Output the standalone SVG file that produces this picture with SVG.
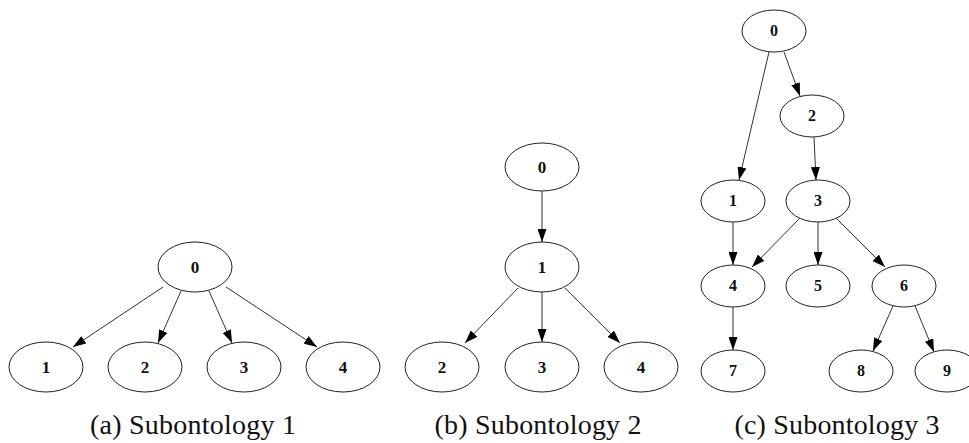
<svg xmlns="http://www.w3.org/2000/svg" width="969" height="443" viewBox="0 0 969 443">
<style>
.n ellipse{fill:#fff;stroke:#222;stroke-width:1}
.n text{font-family:"Liberation Serif",serif;font-size:17px;font-weight:bold;text-anchor:middle;fill:#111}
.s text{font-size:16px}
.e line{stroke:#333;stroke-width:1;marker-end:url(#ah)}
.cap{font-family:"Liberation Serif",serif;font-size:28px;fill:#111;text-anchor:middle}
</style>
<defs>
<marker id="ah" viewBox="0 0 13 9" refX="13" refY="4.5" markerWidth="13" markerHeight="9" markerUnits="userSpaceOnUse" orient="auto">
<path d="M0,0 L13,4.5 L0,9 z" fill="#000"/>
</marker>
</defs>
<rect width="969" height="443" fill="#fff"/>
<g id="edges" class="e">
<line x1="163" y1="287" x2="73" y2="347"/>
<line x1="181" y1="291" x2="158" y2="343"/>
<line x1="209" y1="291" x2="232" y2="343"/>
<line x1="226" y1="287" x2="317" y2="347"/>
<line x1="542" y1="191" x2="542" y2="242"/>
<line x1="518" y1="288" x2="465" y2="343"/>
<line x1="542" y1="292" x2="542" y2="342"/>
<line x1="565" y1="288" x2="620" y2="343"/>
<line x1="769" y1="52" x2="739" y2="180"/>
<line x1="784" y1="52" x2="800" y2="96"/>
<line x1="814" y1="137" x2="816" y2="180"/>
<line x1="733" y1="222" x2="733" y2="265"/>
<line x1="800" y1="218" x2="752" y2="267"/>
<line x1="818" y1="222" x2="818" y2="265"/>
<line x1="836" y1="218" x2="885" y2="267"/>
<line x1="733" y1="307" x2="733" y2="350"/>
<line x1="893" y1="306" x2="873" y2="351"/>
<line x1="915" y1="306" x2="934" y2="352"/>
</g>
<g id="a0" class="n"><ellipse cx="195" cy="267" rx="37" ry="25"/><text x="195" y="273">0</text></g>
<g id="a1" class="n"><ellipse cx="46" cy="367" rx="37" ry="25"/><text x="46" y="373">1</text></g>
<g id="a2" class="n"><ellipse cx="145" cy="367" rx="37" ry="25"/><text x="145" y="373">2</text></g>
<g id="a3" class="n"><ellipse cx="244" cy="367" rx="37" ry="25"/><text x="244" y="373">3</text></g>
<g id="a4" class="n"><ellipse cx="343" cy="367" rx="37" ry="25"/><text x="343" y="373">4</text></g>
<g id="b0" class="n"><ellipse cx="542" cy="167" rx="37" ry="24"/><text x="542" y="173">0</text></g>
<g id="b1" class="n"><ellipse cx="542" cy="267" rx="37" ry="25"/><text x="542" y="273">1</text></g>
<g id="b2" class="n"><ellipse cx="442" cy="367" rx="37" ry="25"/><text x="442" y="373">2</text></g>
<g id="b3" class="n"><ellipse cx="542" cy="367" rx="37" ry="25"/><text x="542" y="373">3</text></g>
<g id="b4" class="n"><ellipse cx="641" cy="367" rx="37" ry="25"/><text x="641" y="373">4</text></g>
<g id="c0" class="n s"><ellipse cx="774" cy="31" rx="32" ry="21"/><text x="774" y="36">0</text></g>
<g id="c1" class="n s"><ellipse cx="733" cy="201" rx="32" ry="21"/><text x="733" y="206">1</text></g>
<g id="c2" class="n s"><ellipse cx="812" cy="116" rx="32" ry="21"/><text x="812" y="121">2</text></g>
<g id="c3" class="n s"><ellipse cx="818" cy="201" rx="32" ry="21"/><text x="818" y="206">3</text></g>
<g id="c4" class="n s"><ellipse cx="733" cy="286" rx="32" ry="21"/><text x="733" y="291">4</text></g>
<g id="c5" class="n s"><ellipse cx="818" cy="286" rx="32" ry="21"/><text x="818" y="291">5</text></g>
<g id="c6" class="n s"><ellipse cx="904" cy="286" rx="32" ry="21"/><text x="904" y="291">6</text></g>
<g id="c7" class="n s"><ellipse cx="733" cy="371" rx="32" ry="21"/><text x="733" y="376">7</text></g>
<g id="c8" class="n s"><ellipse cx="861" cy="371" rx="32" ry="21"/><text x="861" y="376">8</text></g>
<g id="c9" class="n s"><ellipse cx="947" cy="371" rx="32" ry="21"/><text x="947" y="376">9</text></g>
<g id="captions">
<text class="cap" x="193" y="434" textLength="206" lengthAdjust="spacing">(a) Subontology 1</text>
<text class="cap" x="538" y="434" textLength="207" lengthAdjust="spacing">(b) Subontology 2</text>
<text class="cap" x="837" y="434" textLength="205" lengthAdjust="spacing">(c) Subontology 3</text>
</g>
</svg>
